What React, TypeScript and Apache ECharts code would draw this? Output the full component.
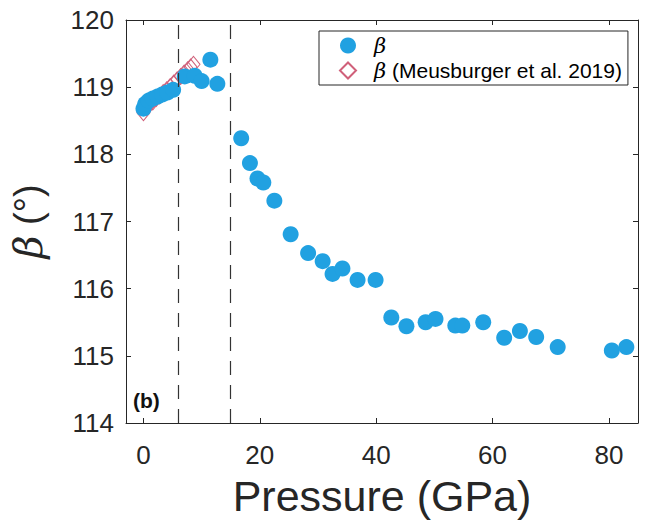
import React, { useEffect, useRef } from "react";
import * as echarts from "echarts";

// Pressure (GPa) and beta (deg) — this study
const bluePressure = [0.0, 0.3, 0.9, 1.6, 2.4, 3.2, 4.1, 5.1, 7.1, 8.8, 10.0, 11.5, 12.7, 16.8, 18.3, 19.6, 20.6, 22.5, 25.3, 28.3, 30.8, 32.5, 34.2, 36.8, 39.9, 42.6, 45.2, 48.5, 50.2, 53.6, 54.8, 58.4, 62.0, 64.7, 67.5, 71.2, 80.5, 83.0];
const blueBeta = [118.68, 118.75, 118.80, 118.83, 118.86, 118.89, 118.92, 118.96, 119.16, 119.17, 119.09, 119.41, 119.05, 118.24, 117.87, 117.64, 117.58, 117.31, 116.81, 116.53, 116.41, 116.22, 116.30, 116.13, 116.13, 115.57, 115.44, 115.50, 115.55, 115.45, 115.45, 115.50, 115.27, 115.37, 115.28, 115.13, 115.08, 115.13];

// Meusburger et al. 2019
const redPressure = [0.0, 0.5, 1.0, 1.6, 2.2, 2.8, 3.4, 4.0, 4.6, 5.2, 5.8, 6.4, 7.0, 7.6, 8.1, 8.6];
const redBeta = [118.62, 118.70, 118.74, 118.78, 118.83, 118.87, 118.92, 118.96, 119.01, 119.06, 119.11, 119.16, 119.21, 119.26, 119.30, 119.34];

// Phase boundaries (dashed lines)
const boundaries = [6, 15];

const xTicks = [0, 20, 40, 60, 80];
const yTicks = [114, 115, 116, 117, 118, 119, 120];

const AXIS = "#262626";
const BLUE = "#21a1e1";
const RED = "#d0607a";
const SANS = "'Liberation Sans', Arial, Helvetica, sans-serif";
const SERIF = "'DejaVu Serif', 'Liberation Serif', serif";

export default function App() {
  const ref = useRef<HTMLDivElement>(null);
  useEffect(() => {
    if (!ref.current) return;
    const chart = echarts.init(ref.current, null, { renderer: "svg" });
    const xBase = {
      type: "value",
      min: -3,
      max: 85,
      splitLine: { show: false },
      axisLine: { show: true, onZero: false, lineStyle: { color: AXIS, width: 1 } },
      axisTick: { show: true, inside: true, length: 5, customValues: xTicks, lineStyle: { color: AXIS } },
    };
    const yBase = {
      type: "value",
      min: yTicks[0],
      max: yTicks[yTicks.length - 1],
      interval: 1,
      splitLine: { show: false },
      axisLine: { show: true, onZero: false, lineStyle: { color: AXIS, width: 1 } },
      axisTick: { show: true, inside: true, length: 5, lineStyle: { color: AXIS } },
    };
    chart.setOption({
      animation: false,
      backgroundColor: "#ffffff",
      grid: { left: 125, top: 20, width: 513, height: 403 },
      xAxis: [
        {
          ...xBase,
          position: "bottom",
          name: "Pressure (GPa)",
          nameLocation: "middle",
          nameGap: 51,
          nameTextStyle: { fontFamily: SANS, fontSize: 43, color: AXIS },
          axisLabel: { show: true, customValues: xTicks, margin: 19, fontFamily: SANS, fontSize: 26, color: AXIS },
        },
        { ...xBase, position: "top", axisLabel: { show: false } },
      ],
      yAxis: [
        {
          ...yBase,
          position: "left",
          name: "{i|β}{n| (°)}",
          nameLocation: "middle",
          nameRotate: 90,
          nameGap: 78,
          nameTextStyle: {
            color: AXIS,
            rich: {
              i: { fontFamily: SERIF, fontStyle: "italic", fontSize: 40, color: AXIS },
              n: { fontFamily: SANS, fontSize: 38, color: AXIS },
            },
          },
          axisLabel: { show: true, margin: 12, fontFamily: SANS, fontSize: 26, color: AXIS },
        },
        { ...yBase, position: "right", axisLabel: { show: false } },
      ],
      legend: {
        show: true,
        orient: "vertical",
        left: 319,
        top: 31,
        data: ["β", "β (Meusburger et al. 2019)"],
        padding: [4, 6, 4, 20],
        itemGap: 4,
        itemWidth: 16,
        itemHeight: 16,
        borderColor: AXIS,
        borderWidth: 1,
        backgroundColor: "#ffffff",
        formatter: (name: string) =>
          name === "β" ? "{i|β}" : "{i|β}{n| (Meusburger et al. 2019)}",
        textStyle: {
          fontFamily: SANS,
          fontSize: 21,
          color: "#000",
          rich: {
            i: { fontFamily: SERIF, fontStyle: "italic", fontSize: 21, color: "#000", lineHeight: 22, padding: [0, 0, 0, 13] },
            n: { fontFamily: SANS, fontSize: 21, color: "#000", lineHeight: 22 },
          },
        },
      },
      series: [
        {
          name: "β (Meusburger et al. 2019)",
          type: "scatter",
          xAxisIndex: 0,
          yAxisIndex: 0,
          symbol: "diamond",
          symbolSize: [13, 16],
          itemStyle: { color: "rgba(255,255,255,0)", borderColor: RED, borderWidth: 1, opacity: 1 },
          data: redPressure.map((p, i) => [p, redBeta[i]]),
          z: 2,
          markLine: {
            silent: true,
            symbol: "none",
            label: { show: false },
            lineStyle: { color: "#333", width: 1.2, type: [14, 10] },
            data: boundaries.map((b) => ({ xAxis: b })),
          },
        },
        {
          name: "β",
          type: "scatter",
          xAxisIndex: 0,
          yAxisIndex: 0,
          symbol: "circle",
          symbolSize: 16,
          itemStyle: { color: BLUE, opacity: 1 },
          data: bluePressure.map((p, i) => [p, blueBeta[i]]),
          z: 3,
        },
      ],
      graphic: [
        {
          type: "text",
          left: 133,
          top: 390,
          style: { text: "(b)", fontFamily: SANS, fontWeight: "bold", fontSize: 21, fill: "#111" },
        },
      ],
    });
    return () => chart.dispose();
  }, []);
  return (
    <div
      ref={ref}
      style={{ position: "fixed", left: 0, top: 0, width: 656, height: 523, background: "#fff" }}
    />
  );
}
